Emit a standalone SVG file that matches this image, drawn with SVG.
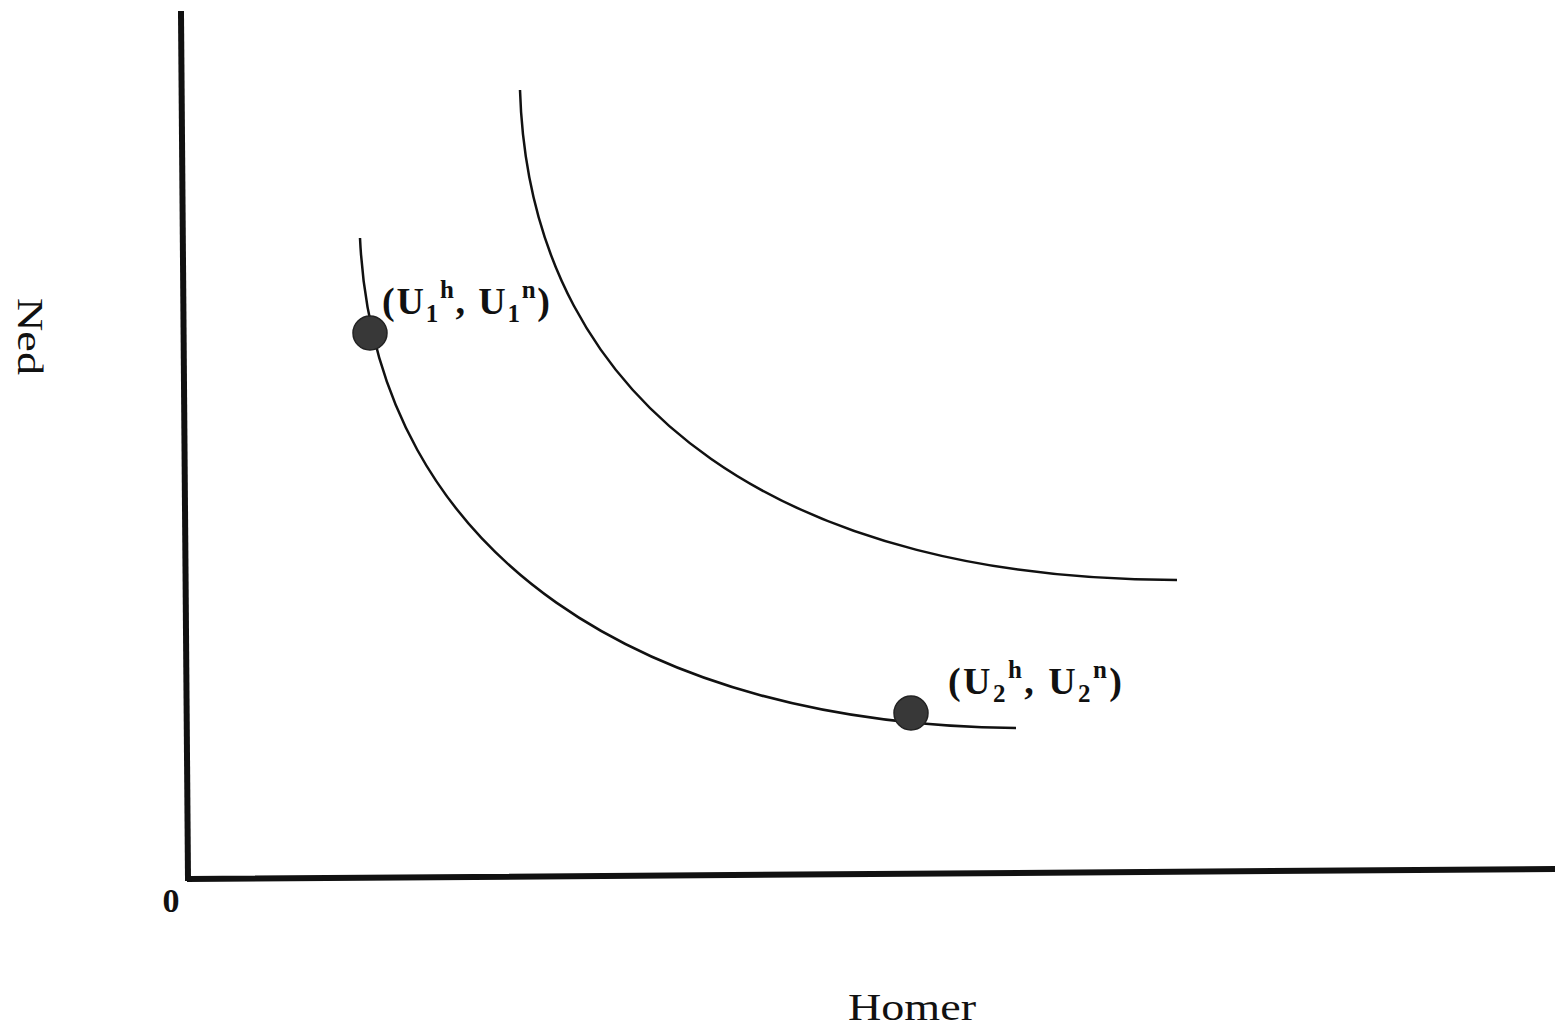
<svg xmlns="http://www.w3.org/2000/svg" width="1555" height="1033" viewBox="0 0 1555 1033">
<style>
.ax{stroke:#111;stroke-width:6;fill:none;stroke-linecap:square}
.cv{stroke:#111;stroke-width:2.5;fill:none}
.pt{fill:#383838;stroke:#222;stroke-width:1.5}
text{font-family:"Liberation Serif","Times New Roman",serif;fill:#111}
.lb{font-size:38px;font-weight:bold}
.sm{font-size:25px}
</style>
<rect width="1555" height="1033" fill="#fff"/>
<g id="connectors">
<path class="ax" d="M181,14 L188,878"/>
<path class="ax" d="M190,879 L1555,869"/>
<path id="curve-lower" class="cv" d="M360,238 C375,560 650,725 1016,728"/>
<path id="curve-upper" class="cv" d="M520,90 C530,420 800,580 1177,580"/>
</g>
<g id="point1">
<circle class="pt" cx="370" cy="333" r="17"/>
<text class="lb" x="382" y="314" textLength="168" lengthAdjust="spacing">(U<tspan class="sm" dy="8">1</tspan><tspan class="sm" dy="-24">h</tspan><tspan dy="16">, U</tspan><tspan class="sm" dy="8">1</tspan><tspan class="sm" dy="-24">n</tspan><tspan dy="16">)</tspan></text>
</g>
<g id="point2">
<circle class="pt" cx="911" cy="713" r="17"/>
<text class="lb" x="948" y="694" textLength="174" lengthAdjust="spacing">(U<tspan class="sm" dy="8">2</tspan><tspan class="sm" dy="-24">h</tspan><tspan dy="16">, U</tspan><tspan class="sm" dy="8">2</tspan><tspan class="sm" dy="-24">n</tspan><tspan dy="16">)</tspan></text>
</g>
<g id="labels">
<text x="171" y="912" font-size="34" font-weight="bold" text-anchor="middle">0</text>
<text x="848" y="1020" font-size="38" textLength="128" lengthAdjust="spacingAndGlyphs">Homer</text>
<text transform="translate(18,298) rotate(90)" font-size="36" textLength="77" lengthAdjust="spacingAndGlyphs">Ned</text>
</g>
</svg>
